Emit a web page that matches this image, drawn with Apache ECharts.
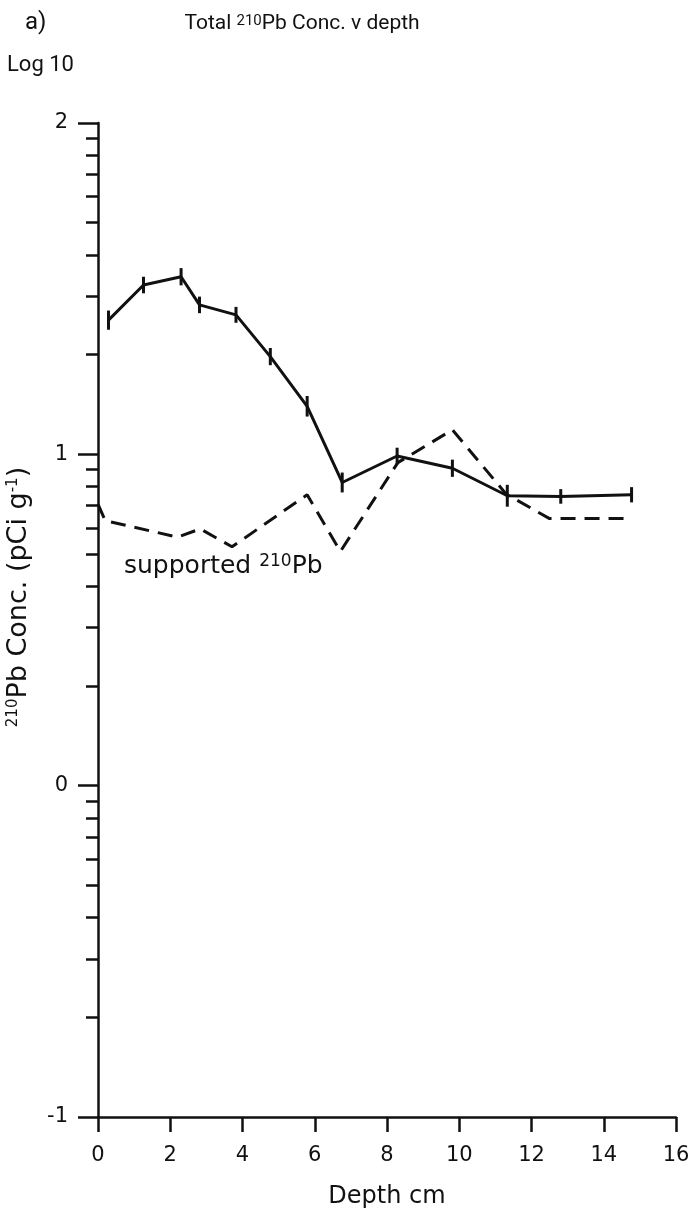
<!DOCTYPE html>
<html>
<head>
<meta charset="utf-8">
<script src="https://cdn.jsdelivr.net/npm/echarts@6/dist/echarts.min.js"></script>
<style>
  html, body { margin: 0; padding: 0; background: #fff; }
  #chart { width: 696px; height: 1214px; }
</style>
</head>
<body>
<div id="chart"></div>
<script>
// ---- data (log10 of 210Pb concentration, pCi/g) ----
const depthTotal = [0.29, 1.26, 2.30, 2.81, 3.82, 4.77, 5.79, 6.76, 8.28, 9.81, 11.33, 12.81, 14.77];
const logTotal   = [1.405, 1.511, 1.536, 1.451, 1.421, 1.295, 1.145, 0.915, 0.995, 0.958, 0.875, 0.873, 0.878];
const errTotal   = [0.029, 0.025, 0.026, 0.025, 0.024, 0.026, 0.031, 0.030, 0.025, 0.026, 0.033, 0.022, 0.023];

const depthSupported = [0.0, 0.2, 2.2, 2.83, 3.71, 5.79, 6.71, 8.3, 9.81, 11.3, 12.5, 14.77];
const logSupported   = [0.85, 0.80, 0.75, 0.775, 0.721, 0.878, 0.707, 0.975, 1.074, 0.88, 0.806, 0.806];

const xTicks = [0, 2, 4, 6, 8, 10, 12, 14, 16];
const yMajorTicks = [-1, 0, 1, 2];
const decadeMultipliers = [2, 3, 4, 5, 6, 7, 8, 9];

// minor (log) tick positions within each decade
const yMinorTicks = [];
for (let d = -1; d < 2; d++) {
  decadeMultipliers.forEach(k => yMinorTicks.push(d + Math.log10(k)));
}

const INK = '#111';
const SANS = '"DejaVu Sans", sans-serif';
const NARROW = 'Roboto, sans-serif';

const chart = echarts.init(document.getElementById('chart'), null, { renderer: 'canvas' });

const errData = depthTotal.map((d, i) => [d, logTotal[i], errTotal[i]]);

chart.setOption({
  animation: false,
  backgroundColor: '#fff',
  grid: { left: 98, right: 20, top: 123, bottom: 96, containLabel: false },
  xAxis: {
    type: 'value', min: xTicks[0], max: xTicks[xTicks.length - 1], interval: 2,
    axisLine: { show: true, onZero: false, lineStyle: { color: INK, width: 2.5 } },
    axisTick: { show: true, length: 15, lineStyle: { color: INK, width: 2.5 } },
    axisLabel: { color: INK, fontSize: 21, fontFamily: SANS, margin: 28 },
    splitLine: { show: false },
    name: 'Depth cm', nameLocation: 'middle', nameGap: 68,
    nameTextStyle: { color: INK, fontSize: 24, fontFamily: SANS }
  },
  yAxis: [
    {
      type: 'value', min: yMajorTicks[0], max: yMajorTicks[yMajorTicks.length - 1], interval: 1,
      axisLine: { show: true, onZero: false, lineStyle: { color: INK, width: 2.5 } },
      axisTick: { show: true, length: 20, lineStyle: { color: INK, width: 2.5 } },
      axisLabel: { color: INK, fontSize: 21, fontFamily: SANS, margin: 30,
                   formatter: v => String(v) },
      splitLine: { show: false }
    },
    {
      type: 'value', min: yMajorTicks[0], max: yMajorTicks[yMajorTicks.length - 1], position: 'left',
      axisLine: { show: false, onZero: false },
      axisTick: { show: true, length: 12, customValues: yMinorTicks, lineStyle: { color: INK, width: 2.5 } },
      axisLabel: { show: false },
      splitLine: { show: false }
    }
  ],
  series: [
    {
      name: 'Total', type: 'line', yAxisIndex: 0,
      data: depthTotal.map((d, i) => [d, logTotal[i]]),
      symbol: 'none',
      lineStyle: { color: INK, width: 3 }
    },
    {
      name: 'error', type: 'custom', yAxisIndex: 0,
      data: errData,
      renderItem: function (params, api) {
        const x = api.value(0), y = api.value(1), e = api.value(2);
        const p1 = api.coord([x, y - e]);
        const p2 = api.coord([x, y + e]);
        return {
          type: 'line',
          shape: { x1: p1[0], y1: p1[1], x2: p2[0], y2: p2[1] },
          style: { stroke: INK, lineWidth: 3 }
        };
      }
    },
    {
      name: 'Supported', type: 'line', yAxisIndex: 0,
      data: depthSupported.map((d, i) => [d, logSupported[i]]),
      symbol: 'none',
      lineStyle: { color: INK, width: 3, type: [15, 9] }
    }
  ],
  graphic: [
    { type: 'text', x: 25, y: 23,
      style: { text: 'a)', fill: INK, font: '24px ' + NARROW, align: 'left', verticalAlign: 'middle' } },
    { type: 'text', x: 302, y: 24,
      style: { text: 'Total {sup|210}Pb Conc. v depth', fill: INK, font: '21px ' + NARROW,
               align: 'center', verticalAlign: 'middle',
               rich: { sup: { font: '15px ' + NARROW, verticalAlign: 'top', fill: INK } } } },
    { type: 'text', x: 7, y: 65,
      style: { text: 'Log 10', fill: INK, font: '22px ' + NARROW, align: 'left', verticalAlign: 'middle' } },
    { type: 'text', x: 19, y: 597, rotation: Math.PI / 2,
      style: { text: '{sup|210}Pb Conc. (pCi g{sup|-1})', fill: INK, font: '27px ' + SANS,
               align: 'center', verticalAlign: 'middle',
               rich: { sup: { font: '15px ' + SANS, verticalAlign: 'top', fill: INK } } } },
    { type: 'text', x: 124, y: 566,
      style: { text: 'supported {sup|210}Pb', fill: INK, font: '25px ' + SANS,
               align: 'left', verticalAlign: 'middle',
               rich: { sup: { font: '17px ' + SANS, verticalAlign: 'top', fill: INK } } } }
  ]
});
</script>
</body>
</html>
